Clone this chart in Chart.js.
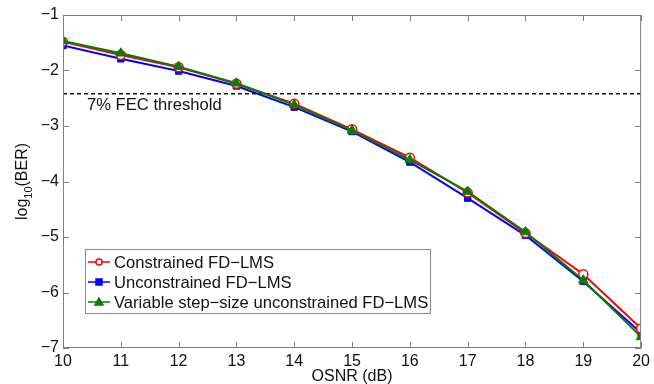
<!DOCTYPE html>
<html>
<head>
<meta charset="utf-8">
<script src="https://cdn.jsdelivr.net/npm/chart.js@4"></script>
<style>
  html, body { margin: 0; padding: 0; background: #fff; }
  #wrap { width: 654px; height: 384px; }
</style>
</head>
<body>
<div id="wrap"><canvas id="ber"></canvas></div>
<script>
// OSNR sweep and log10(BER) per equalizer
const osnr = [10, 11, 12, 13, 14, 15, 16, 17, 18, 19, 20];
const constrained = [-1.48, -1.72, -1.94, -2.24, -2.60, -3.06, -3.57, -4.20, -4.93, -5.67, -6.65];
const unconstrained = [-1.55, -1.79, -2.01, -2.28, -2.66, -3.10, -3.65, -4.30, -4.97, -5.80, -6.73];
const variableStep = [-1.47, -1.69, -1.93, -2.23, -2.62, -3.08, -3.61, -4.18, -4.91, -5.78, -6.80];
const fecThreshold = -2.42;
const xTicks = [10, 11, 12, 13, 14, 15, 16, 17, 18, 19, 20];
const yTicks = [-7, -6, -5, -4, -3, -2, -1];

const FONT = "'Liberation Sans', Arial, sans-serif";
const FS = 16;
const LFS = 16.6;

function toPoints(vals) {
  return osnr.map((x, i) => ({ x: x, y: vals[i] }));
}

// MATLAB-style box, inward ticks, titles, legend and threshold label
const matlabFrame = {
  id: "matlabFrame",
  afterDraw(chart) {
    const { ctx, chartArea: a, scales } = chart;
    const xs = scales.x, ys = scales.y;
    ctx.save();
    ctx.strokeStyle = "#7f7f7f";
    ctx.lineWidth = 1;
    ctx.strokeRect(a.left + 0.5, a.top + 0.5, a.right - a.left - 1, a.bottom - a.top - 1);
    ctx.beginPath();
    xTicks.forEach(v => {
      const px = Math.round(xs.getPixelForValue(v)) + 0.5;
      ctx.moveTo(px, a.bottom); ctx.lineTo(px, a.bottom - 6);
      ctx.moveTo(px, a.top); ctx.lineTo(px, a.top + 6);
    });
    yTicks.forEach(v => {
      const py = Math.round(ys.getPixelForValue(v)) + 0.5;
      ctx.moveTo(a.left, py); ctx.lineTo(a.left + 6, py);
      ctx.moveTo(a.right, py); ctx.lineTo(a.right - 6, py);
    });
    ctx.stroke();

    // threshold label
    ctx.fillStyle = "#111";
    ctx.font = LFS + "px " + FONT;
    ctx.textBaseline = "alphabetic";
    ctx.textAlign = "left";
    ctx.fillText("7% FEC threshold", a.left + 24, ys.getPixelForValue(fecThreshold) + 16);

    // x title
    ctx.font = FS + "px " + FONT;
    ctx.textAlign = "center";
    ctx.fillText("OSNR (dB)", (a.left + a.right) / 2, 381);

    // y title with subscript
    ctx.save();
    ctx.translate(22, (a.top + a.bottom) / 2);
    ctx.rotate(-Math.PI / 2);
    ctx.textAlign = "left";
    const p1 = "log", p2 = "10", p3 = "(BER)";
    ctx.font = FS + "px " + FONT;
    const w1 = ctx.measureText(p1).width, w3 = ctx.measureText(p3).width;
    ctx.font = "11px " + FONT;
    const w2 = ctx.measureText(p2).width;
    let x0 = -(w1 + w2 + w3) / 2;
    ctx.font = FS + "px " + FONT;
    ctx.fillText(p1, x0, 5);
    ctx.font = "11px " + FONT;
    ctx.fillText(p2, x0 + w1, 10);
    ctx.font = FS + "px " + FONT;
    ctx.fillText(p3, x0 + w1 + w2, 5);
    ctx.restore();

    // legend box
    const lx = 85, ly = 249, lw = 345, lh = 64;
    ctx.fillStyle = "#fff";
    ctx.fillRect(lx, ly, lw, lh);
    ctx.strokeStyle = "#8a8a8a";
    ctx.strokeRect(lx + 0.5, ly + 0.5, lw, lh);
    const entries = chart.data.datasets.filter(d => d.inLegend);
    entries.forEach((d, i) => {
      const cy = ly + 13 + i * 20;
      ctx.strokeStyle = d.borderColor;
      ctx.lineWidth = 1.5;
      ctx.beginPath();
      ctx.moveTo(lx + 3, cy); ctx.lineTo(lx + 25, cy);
      ctx.stroke();
      ctx.fillStyle = d.pointBackgroundColor;
      ctx.beginPath();
      if (d.pointStyle === "circle") {
        ctx.arc(lx + 14, cy, 3, 0, Math.PI * 2);
      } else if (d.pointStyle === "rect") {
        ctx.rect(lx + 11, cy - 3, 6, 6);
      } else {
        ctx.moveTo(lx + 14, cy - 4); ctx.lineTo(lx + 18, cy + 3); ctx.lineTo(lx + 10, cy + 3); ctx.closePath();
      }
      ctx.fill(); ctx.stroke();
      ctx.fillStyle = "#111";
      ctx.font = LFS + "px " + FONT;
      ctx.textAlign = "left";
      ctx.fillText(d.label, lx + 29, cy + 6);
    });
    ctx.restore();
  }
};

new Chart(document.getElementById("ber"), {
  type: "line",
  data: {
    datasets: [
      {
        label: "FEC",
        data: [{ x: 10, y: fecThreshold }, { x: 20, y: fecThreshold }],
        borderColor: "#111",
        borderWidth: 1.5,
        borderDash: [4, 3],
        pointRadius: 0,
        order: 4
      },
      {
        label: "Constrained FD\u2212LMS",
        inLegend: true,
        data: toPoints(constrained),
        borderColor: "#ff0000",
        pointBackgroundColor: "#ffffff",
        pointBorderColor: "#ff0000",
        pointStyle: "circle",
        pointRadius: 4.5,
        pointBorderWidth: 1.5,
        borderWidth: 2,
        order: 2
      },
      {
        label: "Unconstrained FD\u2212LMS",
        inLegend: true,
        data: toPoints(unconstrained),
        borderColor: "#0000ff",
        pointBackgroundColor: "#0000ff",
        pointBorderColor: "#0000ff",
        pointStyle: "rect",
        pointRadius: 4.5,
        pointBorderWidth: 1,
        borderWidth: 2,
        order: 3
      },
      {
        label: "Variable step\u2212size unconstrained FD\u2212LMS",
        inLegend: true,
        data: toPoints(variableStep),
        borderColor: "#007f00",
        pointBackgroundColor: "#007f00",
        pointBorderColor: "#007f00",
        pointStyle: "triangle",
        pointRadius: 5.5,
        pointBorderWidth: 1,
        borderWidth: 2,
        order: 1
      }
    ]
  },
  options: {
    responsive: true,
    maintainAspectRatio: false,
    animation: false,
    layout: { padding: { top: 15, right: 6, left: 0, bottom: 0 } },
    plugins: { legend: { display: false }, tooltip: { enabled: false } },
    scales: {
      x: {
        type: "linear",
        min: 10, max: 20,
        afterBuildTicks: s => { s.ticks = xTicks.map(v => ({ value: v })); },
        afterFit: s => { s.height = 36; },
        grid: { display: false, drawTicks: false },
        border: { display: false },
        ticks: { color: "#111", font: { family: FONT, size: FS }, padding: 4, maxRotation: 0 }
      },
      y: {
        type: "linear",
        min: -7, max: -1,
        afterBuildTicks: s => { s.ticks = yTicks.map(v => ({ value: v })); },
        afterFit: s => { s.width = 63; },
        grid: { display: false, drawTicks: false },
        border: { display: false },
        ticks: {
          color: "#111", font: { family: FONT, size: FS }, padding: 4,
          callback: v => "\u2212" + Math.abs(v)
        }
      }
    }
  },
  plugins: [matlabFrame]
});
</script>
</body>
</html>
